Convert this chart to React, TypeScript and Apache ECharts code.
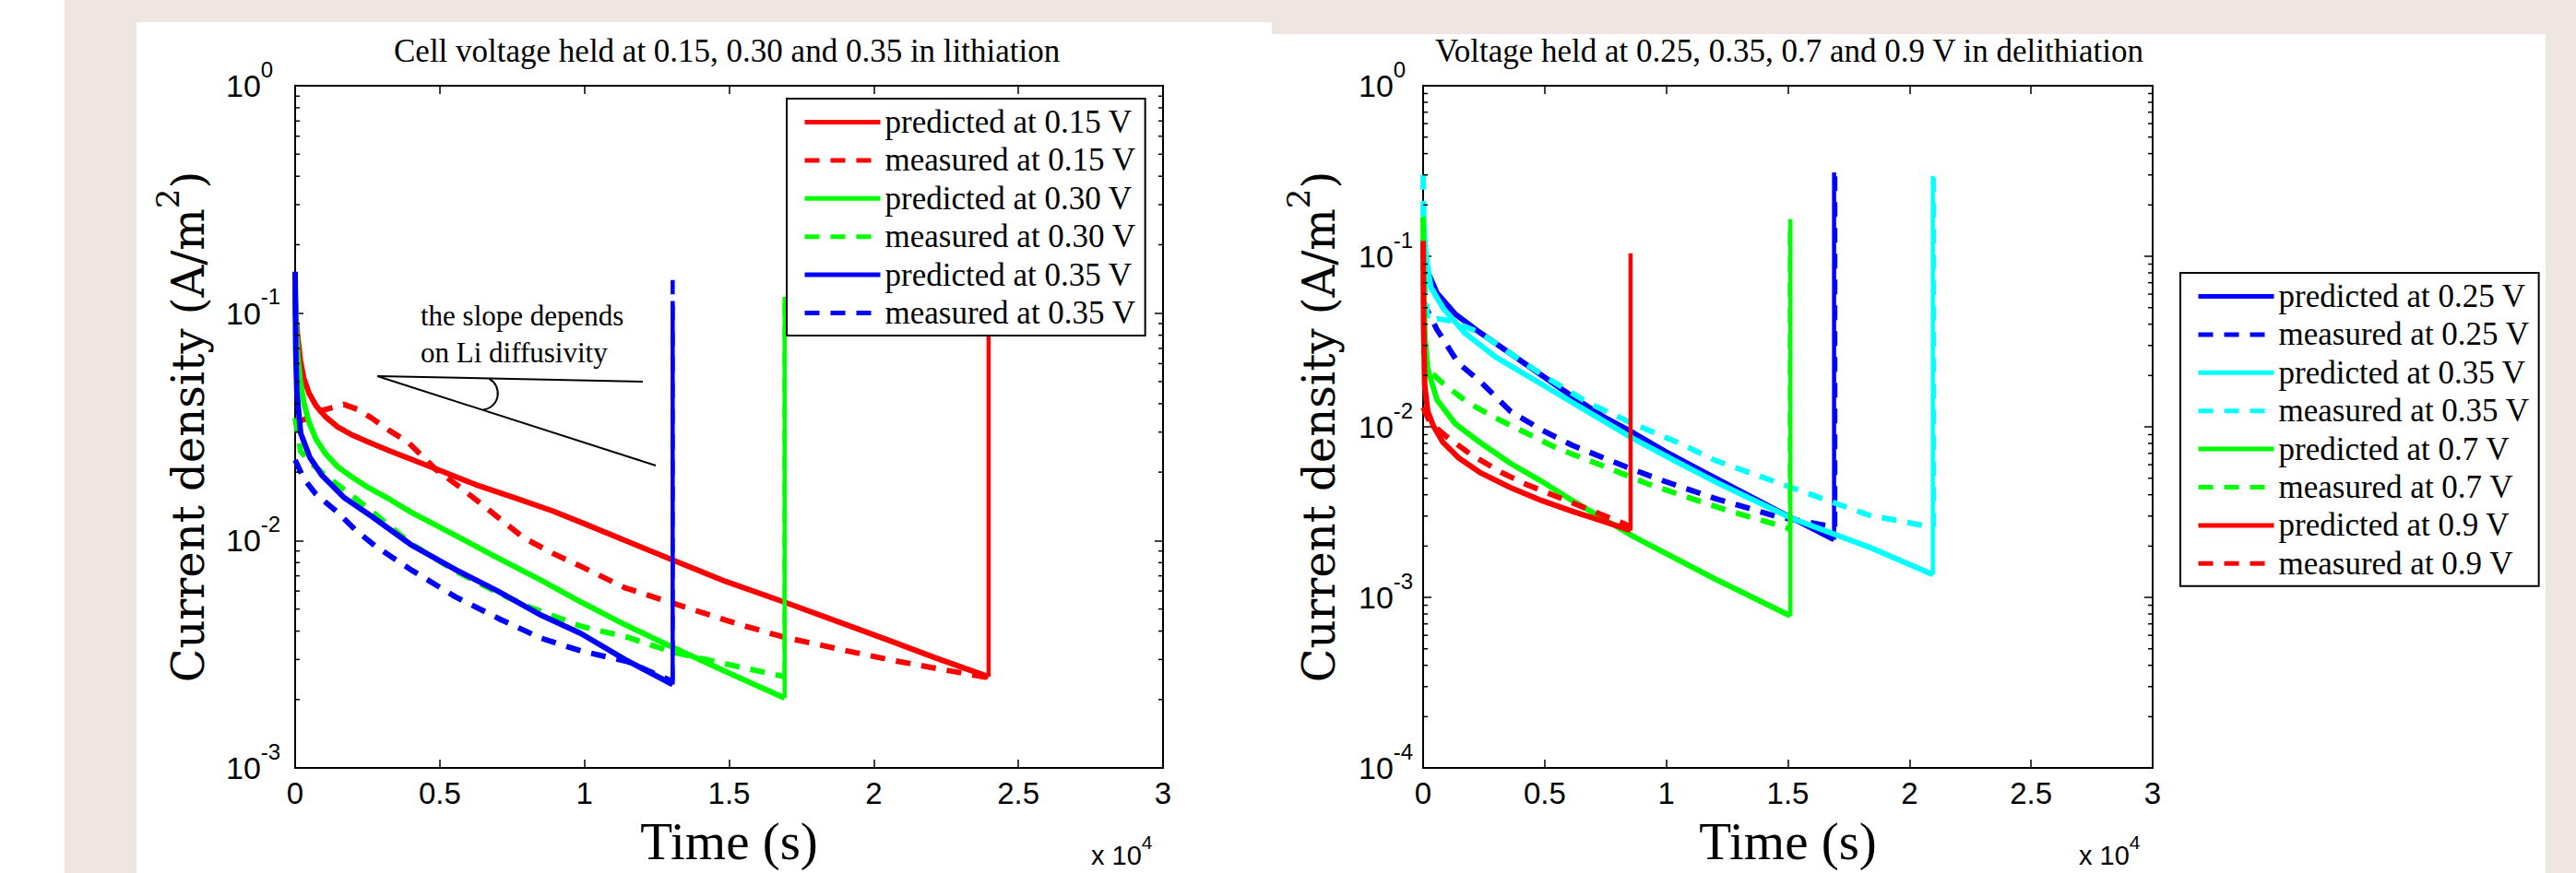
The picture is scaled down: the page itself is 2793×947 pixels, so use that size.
import React, { useEffect, useRef } from 'react';
import * as echarts from 'echarts';

type Pt = [number, number];

// ---------- texts ----------
const leftTitle = 'Cell voltage held at 0.15, 0.30 and 0.35 in lithiation';
const rightTitle = 'Voltage held at 0.25, 0.35, 0.7 and 0.9 V in delithiation';
const xAxisTitle = 'Time (s)';
const xTickLabels = ['0', '0.5', '1', '1.5', '2', '2.5', '3'];
const leftYExponents = ['-3', '-2', '-1', '0'];
const rightYExponents = ['-4', '-3', '-2', '-1', '0'];
const annotationText = 'the slope depends\non Li diffusivity';

const leftNames = [
  'predicted at 0.15 V',
  'measured at 0.15 V',
  'predicted at 0.30 V',
  'measured at 0.30 V',
  'predicted at 0.35 V',
  'measured at 0.35 V',
];
const rightNames = [
  'predicted at 0.25 V',
  'measured at 0.25 V',
  'predicted at 0.35 V',
  'measured at 0.35 V',
  'predicted at 0.7 V',
  'measured at 0.7 V',
  'predicted at 0.9 V',
  'measured at 0.9 V',
];

// ---------- left panel data (time s, current density A/m2) ----------
const predicted015: Pt[] = [[0, 0.117], [30, 0.095], [85, 0.0796], [180, 0.062], [300, 0.0517], [480, 0.0445], [720, 0.0392], [1050, 0.035], [1470, 0.0316], [2000, 0.029], [2530, 0.0271], [3300, 0.0247], [4120, 0.0225], [5200, 0.0199], [6250, 0.0176], [7600, 0.0154], [8900, 0.0135], [9900, 0.012], [11500, 0.0099], [13070, 0.0082], [14900, 0.0066], [16900, 0.00537], [18700, 0.00443], [20500, 0.00365], [22200, 0.00303], [23970, 0.00252]];
const predicted015Jump: Pt[] = [[23970, 0.00252], [23970, 0.11]];
const measured015: Pt[] = [[0, 0.033], [300, 0.034], [800, 0.037], [1150, 0.038], [1680, 0.0397], [2150, 0.0378], [2640, 0.0346], [3250, 0.0305], [3900, 0.0271], [4870, 0.0205], [5720, 0.0171], [6670, 0.0137], [7890, 0.0103], [8900, 0.0088], [9880, 0.0077], [11400, 0.0062], [13070, 0.0053], [15300, 0.0043], [16900, 0.00376], [19200, 0.00325], [20500, 0.003], [22300, 0.00272], [23950, 0.0025]];
const predicted030: Pt[] = [[0, 0.13], [30, 0.09], [85, 0.0662], [180, 0.05], [300, 0.0404], [480, 0.0331], [720, 0.0279], [1050, 0.0241], [1470, 0.0211], [2000, 0.0189], [2530, 0.0171], [3300, 0.0151], [4020, 0.0133], [5500, 0.0106], [7000, 0.0084], [8500, 0.0067], [9880, 0.00537], [11400, 0.00427], [12970, 0.00343], [14900, 0.00265], [16920, 0.00203]];
const predicted030Jump: Pt[] = [[16920, 0.00203], [16920, 0.118]];
const measured030: Pt[] = [[0, 0.0346], [190, 0.0247], [620, 0.0215], [1000, 0.0196], [1900, 0.016], [2700, 0.0133], [4000, 0.0097], [5500, 0.0074], [7000, 0.0059], [8100, 0.0051], [9880, 0.0042], [11480, 0.00376], [13070, 0.00323], [14980, 0.00285], [16920, 0.00252]];
const measured030Jump: Pt[] = [[16920, 0.00252], [16920, 0.11]];
const predicted035: Pt[] = [[0, 0.152], [20, 0.07], [60, 0.045], [190, 0.0297], [510, 0.0232], [935, 0.0193], [1680, 0.0155], [2640, 0.0128], [4000, 0.0096], [5500, 0.0075], [7000, 0.006], [8500, 0.0047], [9880, 0.0039], [11400, 0.003], [13050, 0.00233]];
const predicted035Jump: Pt[] = [[13050, 0.00233], [13050, 0.113]];
const measured035: Pt[] = [[0, 0.0226], [300, 0.0187], [720, 0.016], [1470, 0.0133], [2100, 0.0111], [2800, 0.0094], [4000, 0.00745], [5550, 0.00565], [7100, 0.0045], [8480, 0.00373], [9880, 0.00327], [11480, 0.00294], [13050, 0.0024]];
const measured035Jump: Pt[] = [[13050, 0.0024], [13050, 0.14]];

// ---------- right panel data ----------
const predicted025R: Pt[] = [[0, 0.123], [60, 0.1], [190, 0.0811], [570, 0.0608], [1330, 0.0457], [2340, 0.0357], [3600, 0.0268], [4870, 0.0201], [6130, 0.0151], [7400, 0.0115], [8660, 0.0092], [9925, 0.0072], [12020, 0.005], [14550, 0.00324], [16900, 0.00218]];
const predicted025RJump: Pt[] = [[16900, 0.00218], [16900, 0.31]];
const measured025R: Pt[] = [[0, 0.055], [190, 0.0476], [570, 0.0372], [1450, 0.0236], [2340, 0.0185], [3600, 0.0123], [4870, 0.0096], [6130, 0.0078], [7400, 0.0066], [8660, 0.0056], [9925, 0.0048], [12020, 0.0038], [14550, 0.00298], [16700, 0.00262], [16950, 0.0026]];
const measured025RJump: Pt[] = [[16950, 0.0026], [16950, 0.3]];
const predicted035R: Pt[] = [[0, 0.2], [50, 0.13], [126, 0.0997], [316, 0.066], [820, 0.0496], [1700, 0.0357], [2970, 0.0257], [4870, 0.0178], [6760, 0.0123], [8660, 0.0085], [10560, 0.0061], [12020, 0.00476], [15180, 0.0029], [18350, 0.00197], [20960, 0.00136]];
const predicted035RJump: Pt[] = [[20960, 0.00136], [20960, 0.295]];
const measured035R: Pt[] = [[0, 0.3], [60, 0.07], [190, 0.042], [600, 0.043], [1075, 0.042], [2340, 0.0357], [3600, 0.0268], [5120, 0.0193], [6760, 0.0139], [8660, 0.0104], [10560, 0.008], [12020, 0.00635], [15180, 0.00439], [18350, 0.00303], [21000, 0.00257]];
const measured035RJump: Pt[] = [[21000, 0.00257], [21000, 0.29]];
const predicted07R: Pt[] = [[0, 0.17], [30, 0.06], [80, 0.033], [190, 0.0218], [570, 0.0144], [1330, 0.0104], [2340, 0.0081], [3600, 0.0061], [4870, 0.0048], [6130, 0.0037], [7400, 0.0029], [8660, 0.00227], [12020, 0.00128], [15100, 0.00078]];
const predicted07RJump: Pt[] = [[15100, 0.00078], [15100, 0.165]];
const measured07R: Pt[] = [[0, 0.028], [300, 0.021], [870, 0.0177], [1830, 0.0139], [2970, 0.0113], [4240, 0.0092], [5500, 0.0075], [7400, 0.0059], [9300, 0.0046], [12330, 0.0033], [14930, 0.00257], [15080, 0.0025]];
const measured07RJump: Pt[] = [[15080, 0.0025], [15080, 0.15]];
const predicted09R: Pt[] = [[0, 0.123], [20, 0.04], [63, 0.0177], [190, 0.0123], [440, 0.01], [820, 0.0081], [1450, 0.0066], [2340, 0.0054], [3600, 0.0044], [4870, 0.0037], [6130, 0.0032], [7400, 0.0028], [8530, 0.00247]];
const predicted09RJump: Pt[] = [[8530, 0.00247], [8530, 0.104]];
const measured09R: Pt[] = [[0, 0.013], [300, 0.0105], [950, 0.0088], [1960, 0.0069], [3220, 0.0054], [4240, 0.0046], [5500, 0.0039], [6760, 0.0033], [8280, 0.0027], [8500, 0.0026]];

// minor log ticks
const minorMantissas = [2, 3, 4, 5, 6, 7, 8, 9];
const leftDecades = [0.001, 0.01, 0.1];
const rightDecades = [0.0001, 0.001, 0.01, 0.1];

const RED = '#ff0000';
const GREEN = '#00ff00';
const BLUE = '#0000ff';
const CYAN = '#00ffff';
const BEIGE = '#efe6e1';

const SERIF = '"Liberation Serif", "Times New Roman", serif';
const SANS = '"Liberation Sans", Arial, sans-serif';
const WIDE_SERIF = '"DejaVu Serif", serif';

const W = 2793;
const H = 947;
const DASH = [16, 12];

function lineSeries(name: string, data: Pt[], color: string, dashed: boolean, axis: number, width: number) {
  return {
    type: 'line',
    name,
    data,
    xAxisIndex: axis * 2,
    yAxisIndex: axis * 2,
    symbol: 'none',
    showSymbol: false,
    smooth: false,
    lineStyle: { color, width, type: dashed ? DASH : 'solid', cap: 'butt', join: 'round' },
    itemStyle: { color },
    z: 2,
  };
}

function minorTickSeries(values: number[], axis: number) {
  return {
    type: 'custom',
    name: 'minor' + axis,
    xAxisIndex: axis * 2,
    yAxisIndex: axis * 2,
    silent: true,
    clip: false,
    z: 4,
    data: values.map((v) => [0, v]),
    renderItem: (_p: any, api: any) => {
      const v = api.value(1);
      const l = api.coord([0, v]);
      const r = api.coord([30000, v]);
      return {
        type: 'group',
        children: [
          { type: 'line', shape: { x1: l[0], y1: l[1], x2: l[0] + 5, y2: l[1] }, style: { stroke: '#000', lineWidth: 1.5 } },
          { type: 'line', shape: { x1: r[0] - 5, y1: r[1], x2: r[0], y2: r[1] }, style: { stroke: '#000', lineWidth: 1.5 } },
        ],
      };
    },
  };
}

function xAxes(grid: number) {
  const common = {
    gridIndex: grid,
    type: 'value',
    min: 0,
    max: 30000,
    interval: 5000,
    splitLine: { show: false },
    axisLine: { show: true, onZero: false, lineStyle: { color: '#000', width: 2 } },
    axisTick: { show: true, inside: true, length: 9, lineStyle: { color: '#000', width: 1.5 } },
  };
  return [
    {
      ...common,
      position: 'bottom',
      name: xAxisTitle,
      nameLocation: 'middle',
      nameGap: 77,
      nameTextStyle: { fontFamily: SERIF, fontSize: 57, color: '#000', verticalAlign: 'middle', lineHeight: 60 },
      axisLabel: {
        show: true,
        margin: 11,
        fontFamily: SANS,
        fontSize: 33,
        color: '#000',
        formatter: (v: number) => xTickLabels[Math.round(v / 5000)] ?? '',
      },
    },
    { ...common, position: 'top', axisLabel: { show: false } },
  ];
}

function yAxes(grid: number, min: number, exps: string[], margin: number, nameGap: number) {
  const common = {
    gridIndex: grid,
    type: 'log',
    logBase: 10,
    min,
    max: 1,
    splitLine: { show: false },
    axisLine: { show: true, onZero: false, lineStyle: { color: '#000', width: 2 } },
    axisTick: { show: true, inside: true, length: 9, lineStyle: { color: '#000', width: 1.5 } },
  };
  const lowExp = Math.round(Math.log10(min));
  return [
    {
      ...common,
      position: 'left',
      name: '{a|Current density (A/m}{s|2}{a|)}',
      nameLocation: 'middle',
      nameGap,
      nameTextStyle: {
        verticalAlign: 'middle',
        rich: {
          a: { fontFamily: WIDE_SERIF, fontSize: 48, lineHeight: 78, verticalAlign: 'middle', color: '#000' },
          s: { fontFamily: WIDE_SERIF, fontSize: 34, lineHeight: 30, verticalAlign: 'top', color: '#000' },
        },
      },
      axisLabel: {
        show: true,
        align: 'left',
        margin,
        formatter: (v: number) => `{b|10}{e|${exps[Math.round(Math.log10(v)) - lowExp] ?? ''}}`,
        rich: {
          b: { fontFamily: SANS, fontSize: 34, lineHeight: 60, verticalAlign: 'middle', color: '#000' },
          e: { fontFamily: SANS, fontSize: 24, lineHeight: 21, verticalAlign: 'top', color: '#000' },
        },
      },
    },
    { ...common, position: 'right', axisLabel: { show: false } },
  ];
}

function legend(names: string[], prefix: string, left: number, top: number) {
  return {
    orient: 'vertical',
    left,
    top,
    data: names.map((n) => prefix + n),
    formatter: (name: string) => name.slice(prefix.length),
    selectedMode: false,
    backgroundColor: '#fff',
    borderColor: '#000',
    borderWidth: 2,
    padding: [8, 10, 7, 17],
    itemWidth: 82,
    itemHeight: 30,
    itemGap: 6.4,
    itemStyle: { opacity: 0 },
    lineStyle: { width: 5 },
    textStyle: { fontFamily: SERIF, fontSize: 35, color: '#000' },
    z: 10,
  };
}

function buildOption() {
  const minorLeft = leftDecades.flatMap((d) => minorMantissas.map((m) => m * d));
  const minorRight = rightDecades.flatMap((d) => minorMantissas.map((m) => m * d));
  const L = 'L|';
  const R = 'R|';
  const leftData: [Pt[], Pt[] | null, string, boolean][] = [
    [predicted015, predicted015Jump, RED, false],
    [measured015, null, RED, true],
    [predicted030, predicted030Jump, GREEN, false],
    [measured030, measured030Jump, GREEN, true],
    [predicted035, predicted035Jump, BLUE, false],
    [measured035, measured035Jump, BLUE, true],
  ];
  const rightData: [Pt[], Pt[] | null, string, boolean][] = [
    [predicted025R, predicted025RJump, BLUE, false],
    [measured025R, measured025RJump, BLUE, true],
    [predicted035R, predicted035RJump, CYAN, false],
    [measured035R, measured035RJump, CYAN, true],
    [predicted07R, predicted07RJump, GREEN, false],
    [measured07R, measured07RJump, GREEN, true],
    [predicted09R, predicted09RJump, RED, false],
    [measured09R, null, RED, true],
  ];

  const series: any[] = [];
  const addPanel = (rows: [Pt[], Pt[] | null, string, boolean][], names: string[], prefix: string, axis: number) => {
    rows.forEach((d, i) => {
      series.push(lineSeries(prefix + names[i], d[0], d[2], d[3], axis, 6));
      if (d[1]) series.push(lineSeries('jump|' + prefix + names[i], d[1], d[2], d[3], axis, 4.5));
    });
  };
  addPanel(leftData, leftNames, L, 0);
  addPanel(rightData, rightNames, R, 1);
  series.push(minorTickSeries(minorLeft, 0), minorTickSeries(minorRight, 1));

  const xTimesRich = {
    b: { fontFamily: SANS, fontSize: 29, lineHeight: 50, verticalAlign: 'middle', fill: '#000' },
    e: { fontFamily: SANS, fontSize: 21, lineHeight: 14, verticalAlign: 'top', fill: '#000' },
  };

  return {
    animation: false,
    backgroundColor: '#ffffff',
    title: [
      { text: leftTitle, left: 427, top: 37, padding: 0, textStyle: { fontFamily: SERIF, fontSize: 35, fontWeight: 'normal', color: '#000', lineHeight: 36 } },
      { text: rightTitle, left: 1556, top: 37, padding: 0, textStyle: { fontFamily: SERIF, fontSize: 35, fontWeight: 'normal', color: '#000', lineHeight: 36 } },
    ],
    grid: [
      { left: 320, top: 93, width: 941, height: 747, containLabel: false },
      { left: 1543, top: 93, width: 791, height: 747, containLabel: false },
    ],
    xAxis: [...xAxes(0), ...xAxes(1)],
    yAxis: [...yAxes(0, 0.001, leftYExponents, 75, 116), ...yAxes(1, 0.0001, rightYExponents, 70, 113)],
    legend: [legend(leftNames, L, 853, 107), legend(rightNames, R, 2364, 296)],
    series,
    graphic: [
      { type: 'rect', z: -100, silent: true, shape: { x: 70, y: 0, width: W - 70, height: H }, style: { fill: BEIGE } },
      { type: 'rect', z: -99, silent: true, shape: { x: 148, y: 24, width: 1231, height: H - 24 }, style: { fill: '#fff' } },
      { type: 'rect', z: -99, silent: true, shape: { x: 1379, y: 37, width: 1381, height: H - 37 }, style: { fill: '#fff' } },
      // slope annotation
      { type: 'line', z: 5, shape: { x1: 409, y1: 408, x2: 697, y2: 414 }, style: { stroke: '#000', lineWidth: 2 } },
      { type: 'line', z: 5, shape: { x1: 409, y1: 408, x2: 711, y2: 505 }, style: { stroke: '#000', lineWidth: 2 } },
      { type: 'arc', z: 5, shape: { cx: 522, cy: 426.7, r: 17.8, startAngle: -1.086, endAngle: 1.445, clockwise: true }, style: { stroke: '#000', lineWidth: 2, fill: 'none' } },
      {
        type: 'text', z: 5, x: 456, y: 322,
        style: { text: annotationText, fontFamily: SERIF, fontSize: 31, lineHeight: 40, fill: '#000', align: 'left', verticalAlign: 'top' },
      },
      // x 10^4 multipliers
      { type: 'text', z: 5, x: 1183, y: 927.5, style: { text: '{b|x 10}{e|4}', rich: xTimesRich, align: 'left', verticalAlign: 'middle' } },
      { type: 'text', z: 5, x: 2254, y: 927.5, style: { text: '{b|x 10}{e|4}', rich: xTimesRich, align: 'left', verticalAlign: 'middle' } },
    ],
  };
}

export default function App() {
  const ref = useRef<HTMLDivElement>(null);
  useEffect(() => {
    if (!ref.current) return;
    const chart = echarts.init(ref.current, null, { renderer: 'svg' });
    chart.setOption(buildOption() as any);
    return () => chart.dispose();
  }, []);
  return <div ref={ref} style={{ position: 'fixed', left: 0, top: 0, width: W, height: H }} />;
}
